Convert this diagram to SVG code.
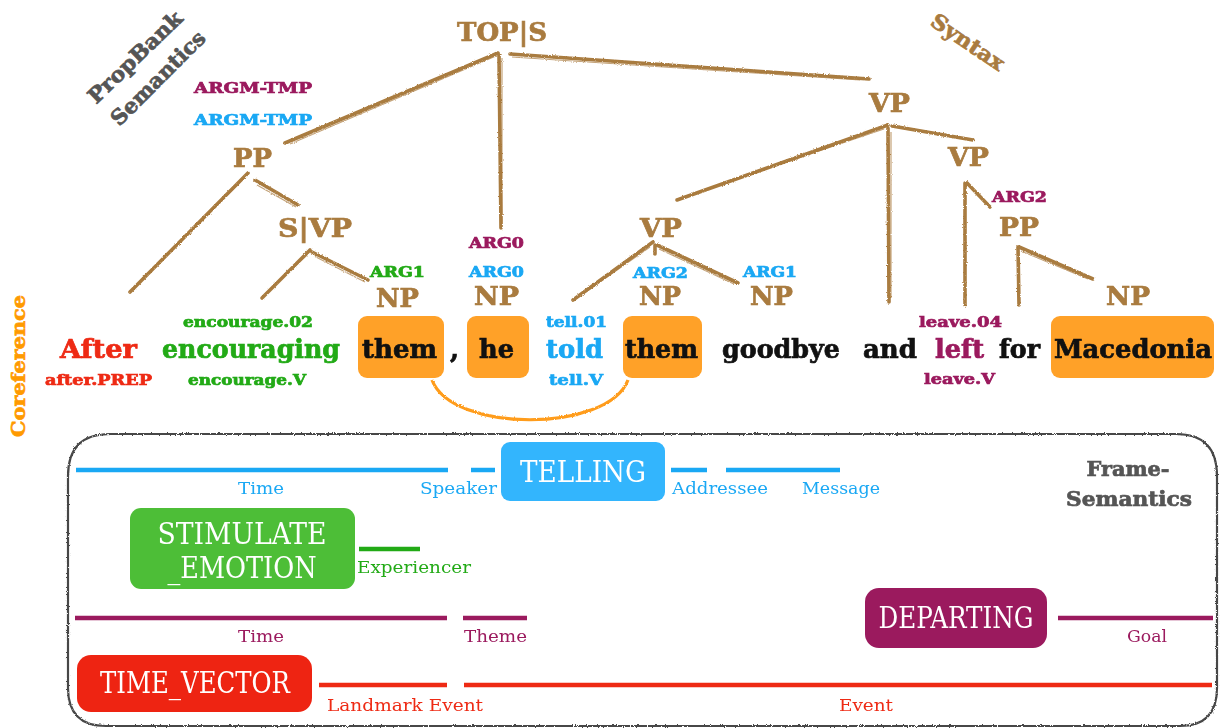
<svg xmlns="http://www.w3.org/2000/svg" width="1225" height="728" viewBox="0 0 1225 728">
  <defs>
    <style>
      .slab { font-family: "DejaVu Serif", "Liberation Serif", serif; font-weight: bold; stroke-width: 0.7; }
      .cat { fill: #A97B3F; stroke: #A97B3F; font-size: 26px; }
      .arg { font-size: 15px; }
      .word { font-size: 26px; }
      .sense { font-size: 15px; }
      .brown { fill: #A97B3F; stroke: #A97B3F; }
      .purple { fill: #9B1A5E; stroke: #9B1A5E; }
      .blue { fill: #1AA8F4; stroke: #1AA8F4; }
      .green { fill: #22AA16; stroke: #22AA16; }
      .red { fill: #EE2A14; stroke: #EE2A14; }
      .black { fill: #111; stroke: #111; }
      .gray { fill: #555; stroke: #555; }
      .coref { fill: #FFA128; }
      .edge { stroke: #A97B3F; stroke-width: 3.6; fill: none; stroke-linecap: round; }
      .edge2 { stroke: #A97B3F; stroke-width: 1.2; fill: none; opacity: 0.7; }
      .fname { fill: #fff; font-size: 29px; }
      .fe { font-size: 17px; }
      .bl { stroke: #1AA8F4; stroke-width: 4.5; }
      .gl { stroke: #22AA16; stroke-width: 4.5; }
      .pl { stroke: #9B1A5E; stroke-width: 4.5; }
      .rl { stroke: #EE2A14; stroke-width: 4.5; }
      /* light typewriter-style face for frame names and frame elements */
      .tw { font-family: "DejaVu Serif Condensed", "DejaVu Serif", "Liberation Serif", serif; font-weight: normal; font-stretch: condensed; stroke: none; }
    </style>
    <filter id="rough" filterUnits="userSpaceOnUse" x="0" y="0" width="1225" height="728">
      <feTurbulence type="fractalNoise" baseFrequency="0.9" numOctaves="2" seed="4"/>
      <feDisplacementMap in="SourceGraphic" scale="2.5" xChannelSelector="R" yChannelSelector="G"/>
    </filter>
  </defs>

  <rect width="1225" height="728" fill="#fff"/>

  <!-- layer captions -->
  <g id="caption-propbank" class="slab gray" font-size="21">
    <text transform="translate(135,57) rotate(-44)" text-anchor="middle" dy=".35em" textLength="122" lengthAdjust="spacingAndGlyphs">PropBank</text>
    <text transform="translate(158,78) rotate(-45)" text-anchor="middle" dy=".35em" textLength="124" lengthAdjust="spacingAndGlyphs">Semantics</text>
  </g>
  <g id="caption-syntax" class="slab brown" font-size="21">
    <text transform="translate(968,42) rotate(34)" text-anchor="middle" dy=".35em" textLength="84" lengthAdjust="spacingAndGlyphs">Syntax</text>
  </g>
  <g id="caption-coreference" class="slab" font-size="19" fill="#FF9A00" stroke="#FF9A00">
    <text transform="translate(18,366) rotate(-90)" text-anchor="middle" dy=".35em" textLength="142" lengthAdjust="spacingAndGlyphs">Coreference</text>
  </g>

  <!-- syntax tree edges -->
  <g id="connectors" filter="url(#rough)">
    <path class="edge" d="M498,53 L285,143"/>
    <path class="edge2" d="M496,56 L290,144"/>
    <path class="edge" d="M499,55 L501,228"/>
    <path class="edge2" d="M502,58 L502,226"/>
    <path class="edge" d="M510,54 L869,79"/>
    <path class="edge2" d="M512,57 L860,80"/>
    <path class="edge" d="M888,125 L677,200"/>
    <path class="edge2" d="M884,129 L680,198"/>
    <path class="edge" d="M892,126 L973,140"/>
    <path class="edge" d="M888,128 L889,302"/>
    <path class="edge2" d="M891,132 L891,298"/>
    <path class="edge" d="M965,183 L965,305"/>
    <path class="edge" d="M967,183 L990,207"/>
    <path class="edge" d="M1018,247 L1019,305"/>
    <path class="edge" d="M1019,247 L1093,279"/>
    <path class="edge2" d="M1021,251 L1088,279"/>
    <path class="edge" d="M248,173 L130,292"/>
    <path class="edge2" d="M244,178 L133,289"/>
    <path class="edge" d="M255,180 L298,205"/>
    <path class="edge2" d="M257,185 L296,207"/>
    <path class="edge" d="M310,250 L262,298"/>
    <path class="edge2" d="M307,255 L264,295"/>
    <path class="edge" d="M312,252 L368,280"/>
    <path class="edge2" d="M314,256 L365,282"/>
    <path class="edge" d="M653,242 L573,300"/>
    <path class="edge2" d="M650,247 L577,298"/>
    <path class="edge" d="M657,245 L738,283"/>
    <path class="edge2" d="M659,249 L734,284"/>
    <path class="edge" d="M655,245 L655,254"/>
    <!-- coreference link them ~ them -->
    <path d="M432,380 C452,433 608,433 628,380" stroke="#FF9C1A" stroke-width="3.2" fill="none"/>
  </g>

  <!-- syntax categories -->
  <g id="node-top" class="slab cat"><text x="457" y="41" textLength="90" lengthAdjust="spacingAndGlyphs">TOP|S</text></g>
  <g id="node-vp-top" class="slab cat"><text x="869" y="112" textLength="41" lengthAdjust="spacingAndGlyphs">VP</text></g>
  <g id="node-vp-right" class="slab cat"><text x="948" y="166" textLength="41" lengthAdjust="spacingAndGlyphs">VP</text></g>
  <g id="node-pp-left" class="slab cat"><text x="233" y="167" textLength="39" lengthAdjust="spacingAndGlyphs">PP</text></g>
  <g id="node-s-vp" class="slab cat"><text x="278" y="237" textLength="74" lengthAdjust="spacingAndGlyphs">S|VP</text></g>
  <g id="node-vp-mid" class="slab cat"><text x="640" y="237" textLength="42" lengthAdjust="spacingAndGlyphs">VP</text></g>
  <g id="node-pp-right" class="slab cat"><text x="999" y="236" textLength="40" lengthAdjust="spacingAndGlyphs">PP</text></g>
  <g id="node-np-them1" class="slab cat"><text x="376" y="307" textLength="43" lengthAdjust="spacingAndGlyphs">NP</text></g>
  <g id="node-np-he" class="slab cat"><text x="474" y="305" textLength="45" lengthAdjust="spacingAndGlyphs">NP</text></g>
  <g id="node-np-them2" class="slab cat"><text x="639" y="305" textLength="42" lengthAdjust="spacingAndGlyphs">NP</text></g>
  <g id="node-np-goodbye" class="slab cat"><text x="750" y="305" textLength="43" lengthAdjust="spacingAndGlyphs">NP</text></g>
  <g id="node-np-macedonia" class="slab cat"><text x="1106" y="305" textLength="44" lengthAdjust="spacingAndGlyphs">NP</text></g>

  <!-- PropBank argument labels -->
  <g id="args" class="slab arg">
    <text class="purple" x="194" y="93" textLength="118" lengthAdjust="spacingAndGlyphs">ARGM-TMP</text>
    <text class="blue" x="194" y="125" textLength="118" lengthAdjust="spacingAndGlyphs">ARGM-TMP</text>
    <text class="green" x="370" y="277" textLength="55" lengthAdjust="spacingAndGlyphs">ARG1</text>
    <text class="purple" x="469" y="248" textLength="55" lengthAdjust="spacingAndGlyphs">ARG0</text>
    <text class="blue" x="469" y="277" textLength="55" lengthAdjust="spacingAndGlyphs">ARG0</text>
    <text class="blue" x="633" y="278" textLength="55" lengthAdjust="spacingAndGlyphs">ARG2</text>
    <text class="blue" x="743" y="277" textLength="54" lengthAdjust="spacingAndGlyphs">ARG1</text>
    <text class="purple" x="992" y="202" textLength="55" lengthAdjust="spacingAndGlyphs">ARG2</text>
  </g>

  <!-- coreference mention boxes -->
  <g id="mention-them1"><rect x="358" y="316" width="86" height="62" rx="9" class="coref"/></g>
  <g id="mention-he"><rect x="467" y="316" width="62" height="62" rx="9" class="coref"/></g>
  <g id="mention-them2"><rect x="623" y="316" width="79" height="62" rx="9" class="coref"/></g>
  <g id="mention-macedonia"><rect x="1051" y="316" width="163" height="62" rx="9" class="coref"/></g>

  <!-- sentence -->
  <g id="words" class="slab word">
    <text class="red" x="60" y="358" textLength="77" lengthAdjust="spacingAndGlyphs">After</text>
    <text class="green" x="162" y="358" textLength="178" lengthAdjust="spacingAndGlyphs">encouraging</text>
    <text class="black" x="362" y="358" textLength="75" lengthAdjust="spacingAndGlyphs">them</text>
    <text class="black" x="450" y="358">,</text>
    <text class="black" x="479" y="358" textLength="35" lengthAdjust="spacingAndGlyphs">he</text>
    <text class="blue" x="546" y="358" textLength="57" lengthAdjust="spacingAndGlyphs">told</text>
    <text class="black" x="625" y="358" textLength="73" lengthAdjust="spacingAndGlyphs">them</text>
    <text class="black" x="722" y="358" textLength="118" lengthAdjust="spacingAndGlyphs">goodbye</text>
    <text class="black" x="863" y="358" textLength="54" lengthAdjust="spacingAndGlyphs">and</text>
    <text class="purple" x="935" y="358" textLength="49" lengthAdjust="spacingAndGlyphs">left</text>
    <text class="black" x="999" y="358" textLength="41" lengthAdjust="spacingAndGlyphs">for</text>
    <text class="black" x="1054" y="358" textLength="158" lengthAdjust="spacingAndGlyphs">Macedonia</text>
  </g>

  <!-- predicate senses -->
  <g id="senses" class="slab sense">
    <text class="red" x="45" y="385" textLength="107" lengthAdjust="spacingAndGlyphs">after.PREP</text>
    <text class="green" x="183" y="327" textLength="130" lengthAdjust="spacingAndGlyphs">encourage.02</text>
    <text class="green" x="188" y="385" textLength="118" lengthAdjust="spacingAndGlyphs">encourage.V</text>
    <text class="blue" x="546" y="327" textLength="61" lengthAdjust="spacingAndGlyphs">tell.01</text>
    <text class="blue" x="549" y="385" textLength="54" lengthAdjust="spacingAndGlyphs">tell.V</text>
    <text class="purple" x="919" y="327" textLength="83" lengthAdjust="spacingAndGlyphs">leave.04</text>
    <text class="purple" x="924" y="384" textLength="71" lengthAdjust="spacingAndGlyphs">leave.V</text>
  </g>

  <!-- frame semantics panel -->
  <g id="frame-panel">
    <path d="M110,434 H1176 Q1217,434 1217,476 V688 Q1217,726 1180,726 H106 Q68,726 68,688 V476 Q68,434 110,434 Z" fill="none" stroke="#474747" stroke-width="2.2" filter="url(#rough)"/>
    <text class="slab gray" font-size="21" x="1128" y="476" text-anchor="middle" textLength="83" lengthAdjust="spacingAndGlyphs">Frame-</text>
    <text class="slab gray" font-size="21" x="1129" y="506" text-anchor="middle" textLength="126" lengthAdjust="spacingAndGlyphs">Semantics</text>
  </g>

  <!-- TELLING -->
  <g id="frame-telling">
    <rect x="501" y="442" width="164" height="59" rx="9" fill="#33B5FD"/>
    <text class="tw fname" x="583" y="482" text-anchor="middle" textLength="126" lengthAdjust="spacingAndGlyphs">TELLING</text>
    <line class="bl" x1="76" y1="470" x2="448" y2="470"/>
    <line class="bl" x1="471" y1="470" x2="495" y2="470"/>
    <line class="bl" x1="671" y1="470" x2="707" y2="470"/>
    <line class="bl" x1="726" y1="470" x2="840" y2="470"/>
    <g class="tw fe blue">
      <text x="261" y="494" text-anchor="middle" textLength="46" lengthAdjust="spacingAndGlyphs">Time</text>
      <text x="420" y="494" textLength="77" lengthAdjust="spacingAndGlyphs">Speaker</text>
      <text x="672" y="494" textLength="96" lengthAdjust="spacingAndGlyphs">Addressee</text>
      <text x="802" y="494" textLength="78" lengthAdjust="spacingAndGlyphs">Message</text>
    </g>
  </g>

  <!-- STIMULATE_EMOTION -->
  <g id="frame-stimulate-emotion">
    <rect x="130" y="508" width="225" height="81" rx="11" fill="#4DBE37"/>
    <text class="tw fname" x="242" y="544" text-anchor="middle" textLength="169" lengthAdjust="spacingAndGlyphs">STIMULATE</text>
    <text class="tw fname" x="242" y="578" text-anchor="middle" textLength="149" lengthAdjust="spacingAndGlyphs">_EMOTION</text>
    <line class="gl" x1="359" y1="549" x2="420" y2="549"/>
    <text class="tw fe green" x="357" y="573" textLength="114" lengthAdjust="spacingAndGlyphs">Experiencer</text>
  </g>

  <!-- DEPARTING -->
  <g id="frame-departing">
    <rect x="865" y="588" width="182" height="60" rx="14" fill="#9B1A5E"/>
    <text class="tw fname" x="956" y="628" text-anchor="middle" textLength="155" lengthAdjust="spacingAndGlyphs">DEPARTING</text>
    <line class="pl" x1="75" y1="618" x2="447" y2="618"/>
    <line class="pl" x1="463" y1="618" x2="527" y2="618"/>
    <line class="pl" x1="1058" y1="618" x2="1213" y2="618"/>
    <g class="tw fe purple">
      <text x="261" y="642" text-anchor="middle" textLength="46" lengthAdjust="spacingAndGlyphs">Time</text>
      <text x="464" y="642" textLength="63" lengthAdjust="spacingAndGlyphs">Theme</text>
      <text x="1147" y="642" text-anchor="middle" textLength="40" lengthAdjust="spacingAndGlyphs">Goal</text>
    </g>
  </g>

  <!-- TIME_VECTOR -->
  <g id="frame-time-vector">
    <rect x="77" y="655" width="235" height="57" rx="14" fill="#EE2412"/>
    <text class="tw fname" x="195" y="693" text-anchor="middle" textLength="190" lengthAdjust="spacingAndGlyphs">TIME_VECTOR</text>
    <line class="rl" x1="319" y1="685" x2="447" y2="685"/>
    <line class="rl" x1="464" y1="685" x2="1212" y2="685"/>
    <g class="tw fe red">
      <text x="327" y="711" textLength="156" lengthAdjust="spacingAndGlyphs">Landmark Event</text>
      <text x="866" y="711" text-anchor="middle" textLength="54" lengthAdjust="spacingAndGlyphs">Event</text>
    </g>
  </g>
</svg>
